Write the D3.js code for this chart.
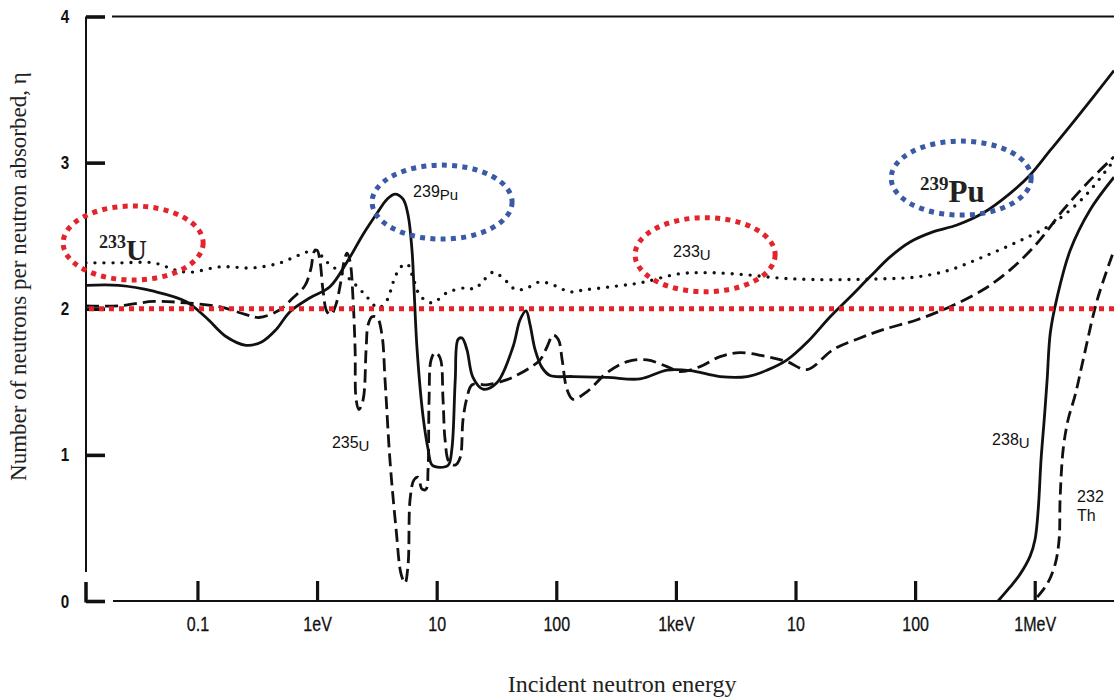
<!DOCTYPE html>
<html>
<head>
<meta charset="utf-8">
<script src="https://cdn.jsdelivr.net/npm/d3@7"></script>
<style>
  body { margin: 0; background: #fff; }
  svg { display: block; }
</style>
</head>
<body>
<svg id="chart" width="1114" height="699"></svg>
<script>
// Eta (neutrons emitted per neutron absorbed) versus incident neutron energy, eV.
const energyTicks = [0.1, 1, 10, 100, 1e3, 1e4, 1e5, 1e6];
const energyTickLabels = ["0.1", "1eV", "10", "100", "1keV", "10", "100", "1MeV"];
const etaTicks = [0, 1, 2, 3, 4];

// [energy (eV), eta]
const pu239 = [
  [0.0117, 2.16], [0.022, 2.16], [0.043, 2.12], [0.080, 2.05], [0.118, 1.94], [0.173, 1.81],
  [0.255, 1.75], [0.347, 1.775], [0.454, 1.857], [0.594, 1.98], [0.874, 2.075], [1.28, 2.15],
  [1.78, 2.32], [2.43, 2.51], [3.18, 2.655], [3.85, 2.75], [4.49, 2.785], [5.24, 2.75],
  [5.77, 2.64], [6.22, 2.40], [6.47, 2.13], [6.86, 1.72], [7.70, 1.26], [8.47, 1.04],
  [9.15, 0.93], [10.7, 0.915], [12.5, 0.93], [13.4, 1.04], [14.3, 1.515], [15.1, 1.79],
  [16.3, 1.80], [17.9, 1.72], [20.1, 1.53], [24.4, 1.45], [32.0, 1.495], [43.5, 1.74],
  [49.8, 1.925], [55.9, 1.986], [60.4, 1.89], [66.5, 1.72], [76.0, 1.597], [88.7, 1.543],
  [138, 1.536], [266, 1.53], [502, 1.52], [844, 1.58], [1315, 1.577], [2340, 1.536],
  [3940, 1.536], [5790, 1.58], [8510, 1.65], [12500, 1.77], [19500, 1.945], [28600, 2.08],
  [42100, 2.22], [61800, 2.355], [90800, 2.457], [141000, 2.526], [224000, 2.573],
  [370000, 2.655], [623000, 2.79], [915000, 2.915], [1.35e6, 3.085], [2.26e6, 3.31], [4.6e6, 3.63]
];

const u235 = [
  [0.0117, 2.02], [0.022, 2.02], [0.043, 2.05], [0.080, 2.04], [0.152, 2.014], [0.255, 1.96],
  [0.327, 1.94], [0.481, 1.99], [0.630, 2.075], [0.794, 2.16], [0.891, 2.28], [0.944, 2.39],
  [1.0, 2.40], [1.06, 2.32], [1.12, 2.13], [1.21, 1.98], [1.31, 1.96], [1.44, 2.03],
  [1.56, 2.16], [1.68, 2.32], [1.78, 2.38], [1.89, 2.32], [2.00, 2.06], [2.08, 1.72],
  [2.12, 1.38], [2.24, 1.31], [2.43, 1.38], [2.57, 1.72], [2.67, 1.89], [2.88, 1.945],
  [3.18, 1.94], [3.49, 1.82], [3.70, 1.515], [4.08, 0.95], [4.58, 0.49], [5.04, 0.184],
  [5.44, 0.123], [5.77, 0.25], [6.00, 0.70], [6.47, 0.83], [6.99, 0.846], [7.55, 0.765],
  [8.15, 0.765], [8.47, 0.90], [8.64, 1.38], [8.98, 1.65], [9.70, 1.70], [10.67, 1.665],
  [11.3, 1.38], [11.75, 1.105], [12.7, 0.95], [14.3, 0.93], [15.7, 0.98], [16.6, 1.24],
  [17.9, 1.39], [19.8, 1.48], [26.9, 1.48], [38.8, 1.515], [48.0, 1.55], [60.4, 1.597],
  [73.2, 1.65], [83.8, 1.74], [94.0, 1.82], [104, 1.79], [112, 1.65], [123, 1.447],
  [138, 1.38], [181, 1.433], [266, 1.563], [391, 1.638], [574, 1.65], [844, 1.604],
  [1083, 1.57], [1593, 1.604], [2340, 1.672], [3440, 1.70], [5790, 1.672], [8510, 1.638],
  [12500, 1.584], [20600, 1.72], [34700, 1.80], [54000, 1.857], [104000, 1.925],
  [196000, 2.014], [370000, 2.13], [623000, 2.266], [1.05e6, 2.45], [1.73e6, 2.676],
  [2.90e6, 2.88], [4.6e6, 3.04]
];

const u233 = [
  [0.0117, 2.314], [0.0225, 2.314], [0.043, 2.314], [0.065, 2.266], [0.0867, 2.25],
  [0.155, 2.287], [0.292, 2.28], [0.491, 2.314], [0.721, 2.37], [0.98, 2.40], [1.17, 2.33],
  [1.47, 2.266], [1.89, 2.20], [2.52, 2.096], [3.24, 2.007], [3.85, 2.06], [4.32, 2.18],
  [4.94, 2.28], [5.66, 2.307], [6.35, 2.21], [7.27, 2.09], [9.15, 2.04], [12.2, 2.11],
  [17.3, 2.143], [20.9, 2.137], [24.4, 2.19], [29.6, 2.25], [35.9, 2.21], [46.1, 2.13],
  [57.0, 2.143], [73.2, 2.184], [97.7, 2.157], [130, 2.116], [174, 2.13], [282, 2.15],
  [502, 2.177], [1083, 2.24], [2050, 2.246], [3940, 2.232], [7430, 2.21], [14000, 2.20],
  [28600, 2.20], [54000, 2.205], [104000, 2.218], [196000, 2.266], [370000, 2.355],
  [713000, 2.457], [1.35e6, 2.573], [2.54e6, 2.758], [4.6e6, 3.017]
];

const u238 = [
  [494000, 0.0], [623000, 0.096], [755000, 0.184], [915000, 0.307], [1.007e6, 0.423],
  [1.07e6, 0.628], [1.13e6, 0.97], [1.20e6, 1.24], [1.27e6, 1.515], [1.35e6, 1.836],
  [1.54e6, 2.08], [1.98e6, 2.40], [2.90e6, 2.676], [4.6e6, 2.90]
];

const th232 = [
  [1.05e6, 0.027], [1.27e6, 0.116], [1.48e6, 0.25], [1.60e6, 0.423], [1.63e6, 0.70],
  [1.73e6, 1.04], [1.90e6, 1.24], [2.18e6, 1.41], [2.54e6, 1.65], [3.33e6, 2.06], [4.6e6, 2.40]
];

// Highlight rings: [energy, eta, colour]
const rings = [
  [0.029, 2.45, "#e3242b"],
  [11.1, 2.73, "#3b5aa6"],
  [1755, 2.37, "#e3242b"],
  [242700, 2.894, "#3b5aa6"]
];

const svg = d3.select("#chart");
const x = d3.scaleLog().domain([0.0117, 4.6e6]).range([86, 1114]);
const y = d3.scaleLinear().domain([0, 4]).range([601, 16.5]);

const ink = "#111";

// ---- frame -------------------------------------------------------------
const frame = svg.append("g").attr("stroke", ink).attr("fill", "none");
frame.append("line").attr("x1", 86).attr("x2", 86).attr("y1", y(4)).attr("y2", 572).attr("stroke-width", 2);
frame.append("line").attr("x1", 86).attr("x2", 86).attr("y1", 582).attr("y2", y(0) + 1.5).attr("stroke-width", 3.5);
frame.append("line").attr("x1", 112).attr("x2", 1114).attr("y1", y(4)).attr("y2", y(4)).attr("stroke-width", 2);
frame.append("line").attr("x1", 113).attr("x2", 1114).attr("y1", y(0)).attr("y2", y(0)).attr("stroke-width", 2);

// ---- axes --------------------------------------------------------------
const xAxis = d3.axisBottom(x)
  .tickValues(energyTicks)
  .tickFormat((d, i) => energyTickLabels[i])
  .tickSize(-20)
  .tickPadding(16);
const gx = svg.append("g").attr("transform", `translate(0,${y(0)})`).call(xAxis);
gx.select(".domain").remove();
gx.selectAll(".tick line").attr("stroke", ink).attr("stroke-width", 3.2);
gx.selectAll(".tick text")
  .attr("fill", ink)
  .attr("font-family", "Liberation Sans, Arial, sans-serif")
  .attr("font-size", 20)
  .attr("stroke", ink).attr("stroke-width", 0.3)
  .attr("transform", "scale(0.8,1)");

const yAxis = d3.axisLeft(y)
  .tickValues(etaTicks)
  .tickFormat(d3.format("d"))
  .tickSize(-19)
  .tickPadding(21);
const gy = svg.append("g").attr("transform", "translate(86,0)").call(yAxis);
gy.select(".domain").remove();
gy.selectAll(".tick line").attr("stroke", ink).attr("stroke-width", 3.6);
gy.selectAll(".tick text")
  .attr("fill", ink)
  .attr("font-family", "Liberation Sans, Arial, sans-serif")
  .attr("font-weight", "bold")
  .attr("font-size", 19)
  .attr("transform", "scale(0.8,1)");

// ---- axis titles -------------------------------------------------------
svg.append("text")
  .attr("transform", `translate(26,${y(2.22)}) rotate(-90)`)
  .attr("text-anchor", "middle")
  .attr("font-family", "Liberation Serif, Times New Roman, serif")
  .attr("font-size", 23)
  .attr("fill", "#222")
  .text("Number of neutrons per neutron absorbed, \u03b7");

svg.append("text")
  .attr("x", x(355)).attr("y", 692)
  .attr("text-anchor", "middle")
  .attr("font-family", "Liberation Serif, Times New Roman, serif")
  .attr("font-size", 24)
  .attr("fill", "#222")
  .text("Incident neutron energy");

// ---- curves ------------------------------------------------------------
svg.append("clipPath").attr("id", "plot")
  .append("rect").attr("x", 86).attr("y", 0).attr("width", 1114 - 86).attr("height", y(0) + 2);

const line = d3.line()
  .x(d => x(d[0]))
  .y(d => y(d[1]))
  .curve(d3.curveCatmullRom.alpha(0.5));

const curves = svg.append("g").attr("clip-path", "url(#plot)").attr("fill", "none").attr("stroke", ink);

curves.append("path").datum(u233).attr("d", line)
  .attr("stroke-width", 3.4).attr("stroke-linecap", "round").attr("stroke-dasharray", "0,9");
curves.append("path").datum(u235).attr("d", line)
  .attr("stroke-width", 2.8).attr("stroke-dasharray", "13,6");
curves.append("path").datum(pu239).attr("d", line)
  .attr("stroke-width", 2.8);
curves.append("path").datum(u238).attr("d", line)
  .attr("stroke-width", 2.8);
curves.append("path").datum(th232).attr("d", line)
  .attr("stroke-width", 2.8).attr("stroke-dasharray", "12,6");

// ---- reference level eta = 2 ------------------------------------------
svg.append("line")
  .attr("x1", 89).attr("x2", 1114)
  .attr("y1", y(2)).attr("y2", y(2))
  .attr("stroke", "#e3242b").attr("stroke-width", 5).attr("stroke-dasharray", "5,5");

// ---- highlight rings ---------------------------------------------------
svg.append("g").selectAll("ellipse").data(rings).join("ellipse")
  .attr("cx", d => x(d[0])).attr("cy", d => y(d[1]))
  .attr("rx", 70).attr("ry", 37)
  .attr("fill", "none")
  .attr("stroke", d => d[2])
  .attr("stroke-width", 5)
  .attr("stroke-dasharray", "5,5.3");

// ---- isotope labels ----------------------------------------------------
const sans = "Liberation Sans, Arial, sans-serif";
const serif = "Liberation Serif, Times New Roman, serif";

function smallLabel(e, eta, mass, sym) {
  const t = svg.append("text")
    .attr("x", x(e)).attr("y", y(eta))
    .attr("font-family", sans).attr("font-size", 16).attr("fill", ink);
  t.append("tspan").text(mass);
  t.append("tspan").attr("dy", 3).attr("font-size", 15).text(sym);
}
smallLabel(6.35, 2.765, "239", "Pu");
smallLabel(948, 2.355, "233", "U");
smallLabel(1.33, 1.05, "235", "U");
smallLabel(440000, 1.07, "238", "U");

svg.append("text").attr("x", x(2.26e6)).attr("y", y(0.68))
  .attr("font-family", sans).attr("font-size", 16).attr("fill", ink).text("232");
svg.append("text").attr("x", x(2.26e6)).attr("y", y(0.546))
  .attr("font-family", sans).attr("font-size", 16).attr("fill", ink).text("Th");

function bigLabel(e, eta, mass, sym, massSize, symSize) {
  const t = svg.append("text")
    .attr("x", x(e)).attr("y", y(eta))
    .attr("font-family", serif).attr("font-weight", "bold").attr("fill", "#222");
  t.append("tspan").attr("font-size", massSize).text(mass);
  t.append("tspan").attr("dy", Math.round(symSize * 0.4)).attr("font-size", symSize).text(sym);
}
bigLabel(0.0150, 2.416, "233", "U", 18, 29);
bigLabel(110000, 2.81, "239", "Pu", 19, 31);
</script>
</body>
</html>
